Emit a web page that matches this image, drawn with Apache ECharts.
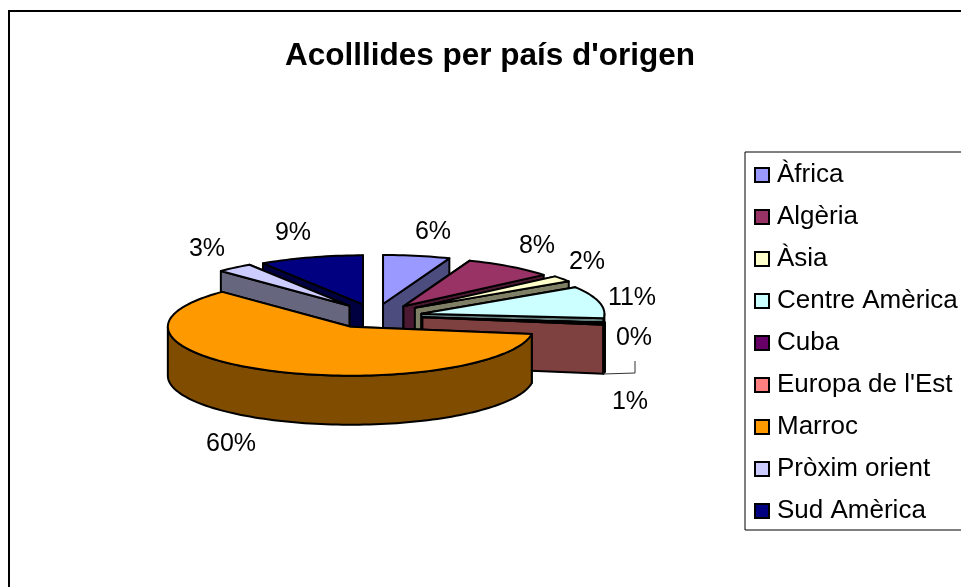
<!DOCTYPE html>
<html>
<head>
<meta charset="utf-8">
<style>
  html, body { margin: 0; padding: 0; background: #fff; }
  #chart { width: 961px; height: 587px; }
</style>
<script src="https://cdn.jsdelivr.net/npm/echarts@6/dist/echarts.min.js"></script>
</head>
<body>
<div id="chart"></div>
<script>
// dades llegides del grafic
var categories = ["Àfrica", "Algèria", "Àsia", "Centre Amèrica", "Cuba", "Europa de l'Est", "Marroc", "Pròxim orient", "Sud Amèrica"];
var percents = [5.9, 8, 2, 10.6, 0.3, 0.6, 60.2, 3.2, 9.2];
var colors = ["#9999FF", "#993366", "#FFFFCC", "#CCFFFF", "#660066", "#FF8080", "#FF9900", "#CCCCFF", "#000080"];

// on va cada etiqueta (centre del text)
var labelPos = [[433, 232], [537, 246], [587, 262], [632, 298], [634, 338], [630, 402], [231, 444], [207, 249], [293, 233]];
// petits retocs de cada porcio, l'original te perspectiva
var nudge = [[2, 2], [2, 2], [2, 0.5], [0, 1.5], [0, 1], [0, 0], [2.5, -1], [10, 1], [6, 2]];

// geometria del pastis
var cx = 371.6, cy = 315.5, rx = 183, ry = 49, depth = 49, explode = 0.28;
var FONT = '"Liberation Sans", Arial, sans-serif';

var myChart = echarts.init(document.getElementById("chart"));

var total = percents.reduce(function(a, b) { return a + b; }, 0);
var starts = [];
var acc = 0;
percents.forEach(function(v) {
  starts.push(acc / total * Math.PI * 2);
  acc += v;
});

function darker(hex) {
  var n = parseInt(hex.slice(1), 16);
  return "rgb(" + ((n >> 16) >> 1) + "," + (((n >> 8) & 255) >> 1) + "," + ((n & 255) >> 1) + ")";
}

// angle en sentit horari des de les 12
function rim(o, a, dy) {
  return [o[0] + Math.sin(a) * rx, o[1] - Math.cos(a) * ry + (dy || 0)];
}

function face(points, fill) {
  return {
    type: "polygon",
    shape: { points: points },
    style: { fill: fill, stroke: "#000", lineWidth: 2, lineJoin: "round" }
  };
}

function arcPoints(o, a0, a1, dy) {
  var pts = [];
  var n = Math.max(2, Math.ceil((a1 - a0) / 0.03));
  for (var i = 0; i <= n; i++) {
    pts.push(rim(o, a0 + (a1 - a0) * i / n, dy));
  }
  return pts;
}

function sliceItem(i) {
  return function(params, api) {
    var a0 = starts[i];
    var a1 = a0 + api.value(0) / total * Math.PI * 2;
    var mid = (a0 + a1) / 2;
    var o = [
      cx + Math.sin(mid) * rx * explode + nudge[i][0],
      cy - Math.cos(mid) * ry * explode + nudge[i][1]
    ];
    var side = darker(colors[i]);
    var base = [o[0], o[1] + depth];

    var wallA = face([o, rim(o, a0), rim(o, a0, depth), base], side);
    var wallB = face([o, rim(o, a1), rim(o, a1, depth), base], side);
    var children = mid < Math.PI ? [wallA, wallB] : [wallB, wallA];

    // paret exterior, nomes la part que mira endavant
    var f0 = Math.max(a0, Math.PI / 2), f1 = Math.min(a1, Math.PI * 1.5);
    if (f1 > f0) {
      var front = arcPoints(o, f0, f1, 0).concat(arcPoints(o, f0, f1, depth).reverse());
      children.push(face(front, side));
    }

    children.push(face([o].concat(arcPoints(o, a0, a1, 0)), colors[i]));
    children.push({
      type: "text",
      z2: 10,
      style: {
        text: Math.round(percents[i]) + "%",
        x: labelPos[i][0],
        y: labelPos[i][1],
        align: "center",
        verticalAlign: "middle",
        font: "25px " + FONT,
        fill: "#000"
      }
    });
    return { type: "group", children: children };
  };
}

// cada porcio es una serie, aixi la llegenda surt sola; z = ordre de darrere a davant
var mids = starts.map(function(s, i) { return s + percents[i] / total * Math.PI; });
var series = categories.map(function(name, i) {
  return {
    name: name,
    type: "custom",
    coordinateSystem: "none",
    silent: true,
    animation: false,
    z: 5 - Math.cos(mids[i]),
    itemStyle: { color: colors[i] },
    renderItem: sliceItem(i),
    data: [[percents[i]]]
  };
});

var option = {
  backgroundColor: "#fff",
  animation: false,
  title: {
    text: "Acolllides per país d'origen",
    left: 280,
    top: 35,
    textStyle: { fontFamily: FONT, fontSize: 31.5, fontWeight: "bold", color: "#000" }
  },
  legend: {
    data: categories,
    orient: "vertical",
    left: 745,
    top: 152,
    padding: [10, 14, 6, 9],
    itemGap: 16,
    itemWidth: 14,
    itemHeight: 14,
    icon: "rect",
    borderColor: "#000",
    borderWidth: 1,
    selectedMode: false,
    itemStyle: { borderColor: "#000", borderWidth: 2 },
    textStyle: { fontFamily: FONT, fontSize: 26, color: "#000", padding: [0, 0, 4, 3], height: 22, lineHeight: 22 }
  },
  graphic: [
    {
      type: "rect",
      shape: { x: 9, y: 11, width: 1200, height: 1200 },
      style: { fill: "none", stroke: "#000", lineWidth: 2 },
      silent: true,
      z: 0
    },
    {
      type: "polyline",
      shape: { points: [[603, 374], [635, 373], [635, 361]] },
      style: { fill: "none", stroke: "#333", lineWidth: 1 },
      silent: true,
      z: 20
    }
  ],
  series: series
};
myChart.setOption(option);

window.addEventListener("resize", function() {
  myChart.resize();
});
</script>
</body>
</html>
